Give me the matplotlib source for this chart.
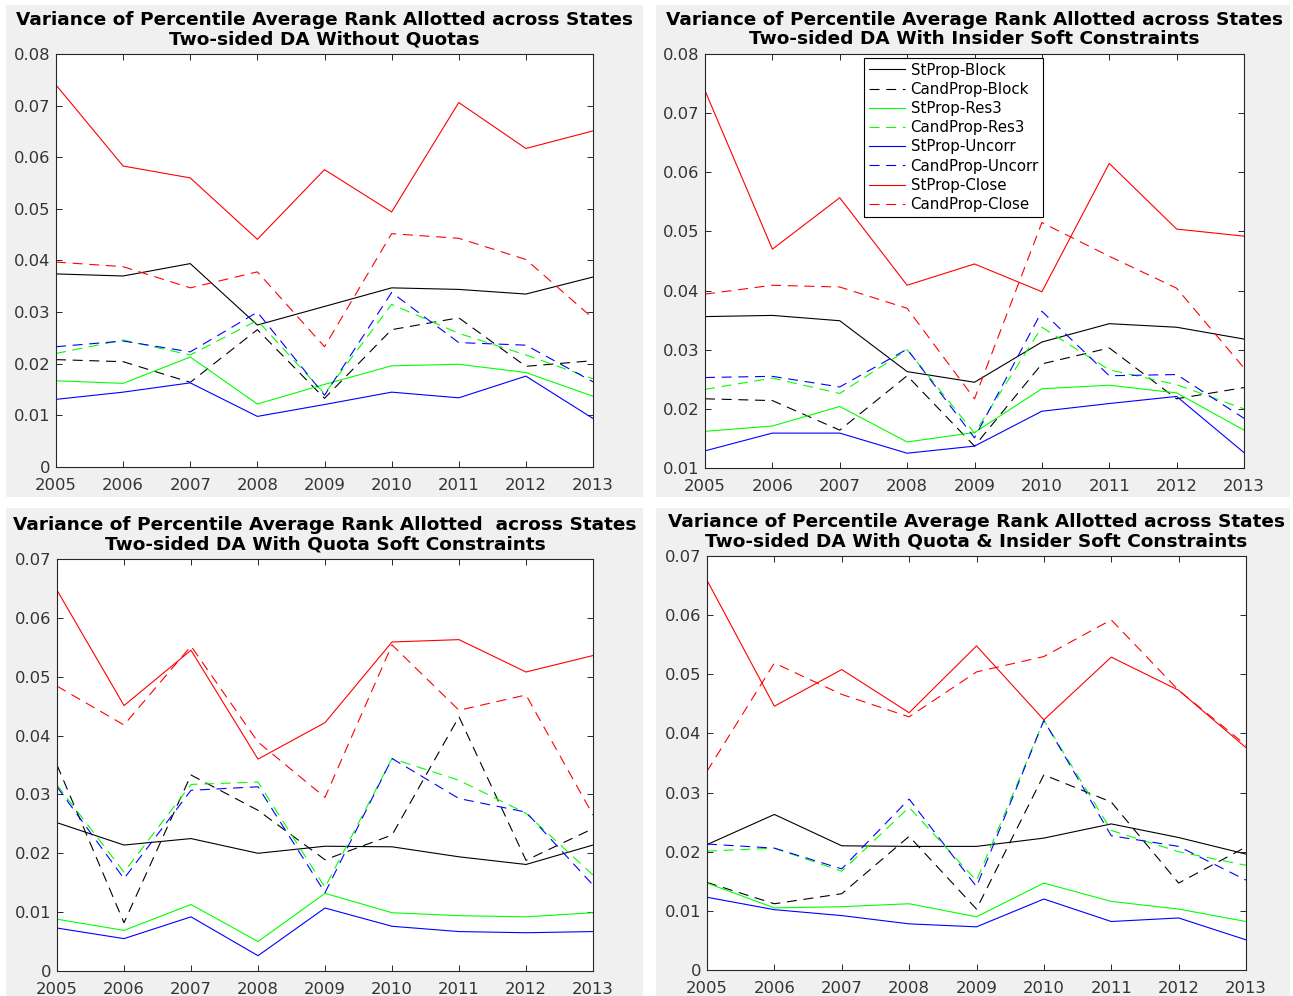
import matplotlib
matplotlib.use("Agg")
import matplotlib.pyplot as plt
from matplotlib.patches import Rectangle
from matplotlib.ticker import FormatStrFormatter

years = [2005, 2006, 2007, 2008, 2009, 2010, 2011, 2012, 2013]

labels = ["StProp-Block", "CandProp-Block", "StProp-Res3", "CandProp-Res3",
          "StProp-Uncorr", "CandProp-Uncorr", "StProp-Close", "CandProp-Close"]

title_top = "Variance of Percentile Average Rank Allotted across States"

# --- Two-sided DA Without Quotas (rows follow the labels above)
noquota = [
    [0.0374, 0.0370, 0.0394, 0.0275, 0.0311, 0.0347, 0.0344, 0.0335, 0.0368],
    [0.0208, 0.0204, 0.0164, 0.0266, 0.0133, 0.0266, 0.0289, 0.0195, 0.0206],
    [0.0167, 0.0162, 0.0213, 0.0122, 0.0160, 0.0196, 0.0199, 0.0183, 0.0137],
    [0.0220, 0.0246, 0.0217, 0.0284, 0.0142, 0.0315, 0.0259, 0.0217, 0.0171],
    [0.0131, 0.0145, 0.0163, 0.0098, 0.0121, 0.0145, 0.0134, 0.0176, 0.0094],
    [0.0233, 0.0244, 0.0223, 0.0300, 0.0139, 0.0338, 0.0241, 0.0236, 0.0165],
    [0.0740, 0.0583, 0.0560, 0.0441, 0.0576, 0.0494, 0.0706, 0.0617, 0.0651],
    [0.0397, 0.0388, 0.0347, 0.0378, 0.0233, 0.0452, 0.0443, 0.0402, 0.0288],
]

# --- Two-sided DA With Insider Soft Constraints
insider = [
    [0.0356, 0.0358, 0.0349, 0.0263, 0.0245, 0.0313, 0.0344, 0.0338, 0.0318],
    [0.0217, 0.0214, 0.0164, 0.0256, 0.0137, 0.0276, 0.0303, 0.0217, 0.0236],
    [0.0162, 0.0171, 0.0204, 0.0144, 0.0160, 0.0234, 0.0240, 0.0227, 0.0164],
    [0.0233, 0.0252, 0.0226, 0.0300, 0.0159, 0.0338, 0.0266, 0.0241, 0.0200],
    [0.0129, 0.0159, 0.0159, 0.0125, 0.0137, 0.0196, 0.0209, 0.0221, 0.0126],
    [0.0253, 0.0255, 0.0237, 0.0301, 0.0151, 0.0365, 0.0256, 0.0258, 0.0184],
    [0.0738, 0.0470, 0.0557, 0.0409, 0.0445, 0.0398, 0.0615, 0.0504, 0.0492],
    [0.0394, 0.0409, 0.0406, 0.0370, 0.0217, 0.0515, 0.0458, 0.0404, 0.0269],
]

# --- Two-sided DA With Quota Soft Constraints
quota = [
    [0.0252, 0.0214, 0.0225, 0.0200, 0.0212, 0.0211, 0.0194, 0.0181, 0.0214],
    [0.0350, 0.0082, 0.0333, 0.0273, 0.0189, 0.0231, 0.0432, 0.0188, 0.0242],
    [0.0088, 0.0069, 0.0113, 0.0050, 0.0132, 0.0099, 0.0094, 0.0092, 0.0099],
    [0.0316, 0.0168, 0.0317, 0.0321, 0.0142, 0.0361, 0.0324, 0.0268, 0.0163],
    [0.0073, 0.0055, 0.0092, 0.0026, 0.0107, 0.0076, 0.0067, 0.0065, 0.0067],
    [0.0313, 0.0157, 0.0307, 0.0313, 0.0133, 0.0361, 0.0293, 0.0270, 0.0146],
    [0.0647, 0.0451, 0.0545, 0.0360, 0.0422, 0.0559, 0.0563, 0.0508, 0.0536],
    [0.0484, 0.0418, 0.0552, 0.0389, 0.0295, 0.0554, 0.0443, 0.0469, 0.0265],
]

# --- Two-sided DA With Quota & Insider Soft Constraints
quota_insider = [
    [0.0212, 0.0263, 0.0210, 0.0209, 0.0209, 0.0223, 0.0247, 0.0224, 0.0196],
    [0.0148, 0.0112, 0.0129, 0.0226, 0.0103, 0.0330, 0.0284, 0.0147, 0.0208],
    [0.0147, 0.0105, 0.0107, 0.0112, 0.0090, 0.0147, 0.0116, 0.0103, 0.0082],
    [0.0201, 0.0206, 0.0167, 0.0275, 0.0151, 0.0422, 0.0236, 0.0200, 0.0177],
    [0.0123, 0.0102, 0.0092, 0.0078, 0.0073, 0.0120, 0.0082, 0.0088, 0.0051],
    [0.0213, 0.0206, 0.0171, 0.0289, 0.0141, 0.0422, 0.0227, 0.0209, 0.0152],
    [0.0659, 0.0446, 0.0508, 0.0435, 0.0548, 0.0423, 0.0529, 0.0473, 0.0376],
    [0.0336, 0.0519, 0.0466, 0.0428, 0.0504, 0.0530, 0.0592, 0.0473, 0.0380],
]

colors = ["k", "k", "#00ff00", "#00ff00", "#0000ff", "#0000ff", "#ff0000", "#ff0000"]

W, H = 1293, 996
fig = plt.figure(figsize=(W / 100, H / 100), dpi=100)
fig.patch.set_facecolor("white")


def px_rect(x0, y0, x1, y1):
    # pixel box (top-left origin) -> figure fraction [l, b, w, h]
    return [x0 / W, 1 - y1 / H, (x1 - x0) / W, (y1 - y0) / H]


# grey MATLAB-style figure backgrounds
for box in [(6, 5, 643, 497), (656, 5, 1290, 497), (6, 508, 643, 996), (656, 508, 1290, 996)]:
    l, b, w, h = px_rect(*box)
    fig.patches.append(Rectangle((l, b), w, h, transform=fig.transFigure,
                                 facecolor="#f0f0f0", edgecolor="none", zorder=-10))

panels = [
    (noquota, "Two-sided DA Without Quotas", px_rect(56, 54, 593, 467), (0, 0.08), False, title_top),
    (insider, "Two-sided DA With Insider Soft Constraints", px_rect(705, 54, 1244, 468), (0.01, 0.08), True, title_top),
    (quota, "Two-sided DA With Quota Soft Constraints", px_rect(57, 559, 593, 971), (0, 0.07), False,
     "Variance of Percentile Average Rank Allotted  across States"),
    (quota_insider, "Two-sided DA With Quota & Insider Soft Constraints", px_rect(707, 556, 1246, 970), (0, 0.07), False, title_top),
]

for data, subtitle, rect, ylim, show_legend, top in panels:
    ax = fig.add_axes(rect)
    ax.set_facecolor("white")
    for i, series in enumerate(data):
        ls = "-" if i % 2 == 0 else "--"
        line, = ax.plot(years, series, color=colors[i], lw=0.8, linestyle=ls, label=labels[i])
        if ls == "--":
            line.set_dashes((9, 6))
    ax.set_xlim(2005, 2013)
    ax.set_ylim(*ylim)
    ax.set_xticks(years)
    ax.set_yticks([round(v * 0.01, 2) for v in range(int(round(ylim[0] * 100)), int(round(ylim[1] * 100)) + 1)])
    ax.yaxis.set_major_formatter(FormatStrFormatter("%g"))
    ax.tick_params(direction="in", length=4, width=0.7, top=True, right=True,
                   labelsize=11.8, labelcolor="#333333", color="#262626")
    ax.tick_params(axis="x", pad=8)
    ax.tick_params(axis="y", pad=4)
    for s in ax.spines.values():
        s.set_color("#262626")
        s.set_linewidth(0.8)
    ax.set_title(top + "\n" + subtitle, fontsize=13.3, fontweight="bold", pad=7, linespacing=1.12)
    if show_legend:
        leg = ax.legend(loc="upper left", bbox_to_anchor=(0.295, 0.99), fontsize=10.8,
                        handlelength=2.4, labelspacing=0.28, borderpad=0.3, borderaxespad=0,
                        handletextpad=0.4, fancybox=False, framealpha=1)
        leg.get_frame().set_edgecolor("black")
        leg.get_frame().set_linewidth(0.8)

fig.savefig("out.png", dpi=100)
